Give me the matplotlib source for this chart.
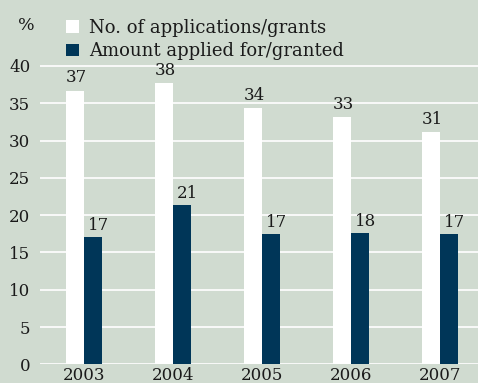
import matplotlib
matplotlib.use("Agg")
import matplotlib.pyplot as plt
from matplotlib.patches import Patch

# data
years = ["2003", "2004", "2005", "2006", "2007"]
applications = [36.7, 37.7, 34.4, 33.2, 31.1]
amounts = [17.1, 21.4, 17.5, 17.6, 17.5]
app_labels = ["37", "38", "34", "33", "31"]
amount_labels = ["17", "21", "17", "18", "17"]

BG = "#d0dbd0"
WHITE = "#ffffff"
NAVY = "#003658"

plt.rcParams["font.family"] = ["DejaVu Serif"]
plt.rcParams["font.size"] = 12

fig = plt.figure(figsize=(4.78, 3.83), dpi=100, facecolor=BG)
W, H = 478, 383
# axes in pixel terms: left 40, right 478, y=0 at 364.3, y=41 at 58.5
ax = fig.add_axes([40 / W, 1 - 364.3 / H, 438 / W, (364.3 - 58.5) / H])
ax.set_facecolor(BG)

x = list(range(len(years)))
bw = 0.2
ax.bar([i - bw / 2 for i in x], applications, width=bw, color=WHITE, zorder=2)
ax.bar([i + bw / 2 for i in x], amounts, width=bw, color=NAVY, zorder=2)

for i in x:
    ax.annotate(app_labels[i], (i - bw, applications[i]), xytext=(0, 3),
                textcoords="offset points", ha="left", va="bottom",
                color="#1a1a1a")
    ax.annotate(amount_labels[i], (i, amounts[i]), xytext=(3, 2),
                textcoords="offset points", ha="left", va="bottom",
                color="#1a1a1a")

ax.set_ylim(0, 41)
ax.set_xlim(-0.494, 4.427)
ax.set_yticks(range(0, 41, 5))
ax.set_xticks(x)
ax.set_xticklabels(years)
ax.yaxis.grid(True, color="white", linewidth=1.2, zorder=0)
ax.set_axisbelow(True)
ax.tick_params(axis="both", length=0, colors="#1a1a1a")
ax.tick_params(axis="y", pad=7)
ax.tick_params(axis="x", pad=2)
for s in ax.spines.values():
    s.set_visible(False)

fig.text(18 / W, 1 - 25 / H, "%", ha="left", va="center", fontsize=12.5,
         color="#1a1a1a")

handles = [Patch(facecolor=WHITE, edgecolor="none"),
           Patch(facecolor=NAVY, edgecolor="none")]
leg = ax.legend(handles, ["No. of applications/grants", "Amount applied for/granted"],
                loc="upper left", bbox_to_anchor=(66 / W, 1 - 19 / H),
                bbox_transform=fig.transFigure, frameon=False,
                handlelength=0.7, handleheight=0.7, handletextpad=0.6,
                labelspacing=0.3, borderpad=0, borderaxespad=0, fontsize=13)
for t in leg.get_texts():
    t.set_color("#1a1a1a")

fig.savefig("out.png", dpi=100, facecolor=BG)
